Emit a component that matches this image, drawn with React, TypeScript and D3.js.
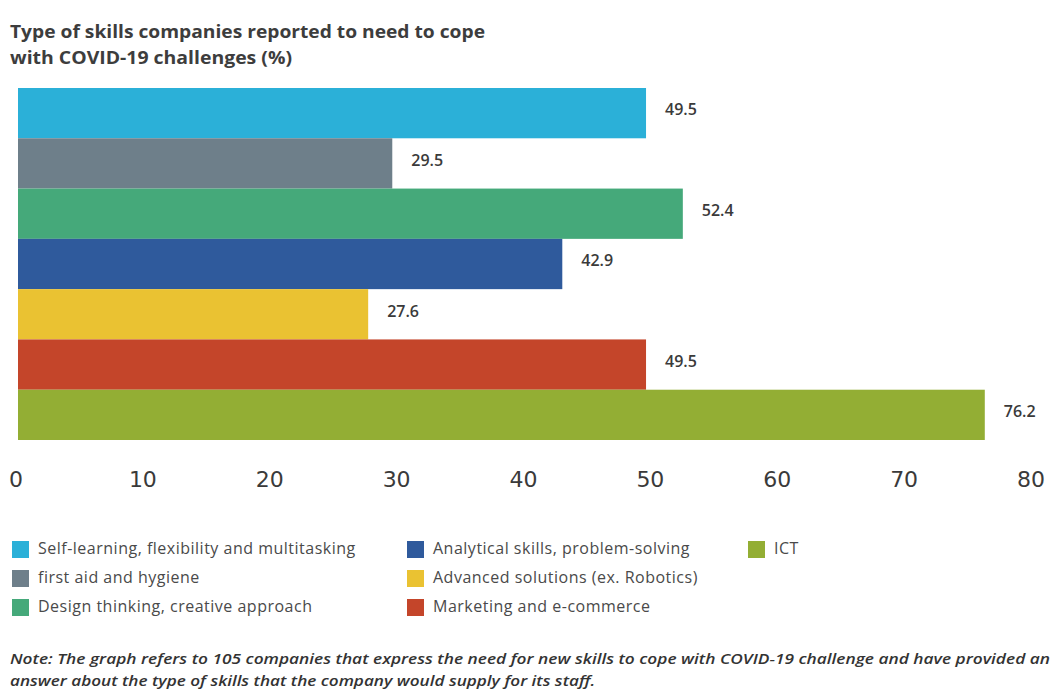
import React from "react";
import * as d3 from "d3";

const categories = [
  "Self-learning, flexibility and multitasking",
  "first aid and hygiene",
  "Design thinking, creative approach",
  "Analytical skills, problem-solving",
  "Advanced solutions (ex. Robotics)",
  "Marketing and e-commerce",
  "ICT",
];
const values = [49.5, 29.5, 52.4, 42.9, 27.6, 49.5, 76.2];
const colors = ["#2BB0D8", "#6E7F8A", "#45A97A", "#2F5A9C", "#EAC232", "#C4452A", "#93AE34"];
const tickValues = [0, 10, 20, 30, 40, 50, 60, 70, 80];
const legendOrder = [[0, 1, 2], [3, 4, 5], [6]];

const W = 1053;
const H = 692;

export default function App() {
  const x = d3.scaleLinear().domain([0, 80]).range([18, 1033]);
  const y = d3.scaleBand<number>().domain(d3.range(values.length)).range([88, 440]).padding(0);
  const legendX = [12, 407, 748];
  const legendY = [541, 570, 599];
  const font = "'Open Sans', 'Noto Sans', sans-serif";
  return (
    <svg width={W} height={H} style={{ position: "absolute", left: 0, top: 0, background: "#fff" }} fontFamily={font}>
      <text fontSize={18} fontWeight={700} fill="#3d3d3d">
        <tspan x={10} y={38} textLength={475} lengthAdjust="spacingAndGlyphs">Type of skills companies reported to need to cope</tspan>
        <tspan x={10} y={64} textLength={282} lengthAdjust="spacingAndGlyphs">with COVID-19 challenges (%)</tspan>
      </text>
      {values.map((v, i) => (
        <g key={i}>
          <rect x={x(0)} y={y(i)!} width={x(v) - x(0)} height={y.bandwidth()} fill={colors[i]} />
          <text x={x(v) + 19} y={y(i)! + y.bandwidth() / 2 - 2} dominantBaseline="middle" fontSize={16} fontWeight={600} fill="#3a3a3a">
            {v.toFixed(1)}
          </text>
        </g>
      ))}
      {tickValues.map((t) => (
        <text key={t} x={x(t) - 2} y={487} textAnchor="middle" fontSize={22} fill="#3a3a3a" fontFamily="'DejaVu Sans', sans-serif">
          {t}
        </text>
      ))}
      {legendOrder.map((col, ci) =>
        col.map((idx, ri) => (
          <g key={idx}>
            <rect x={legendX[ci]} y={legendY[ri]} width={17} height={17} fill={colors[idx]} />
            <text x={legendX[ci] + 26} y={legendY[ri] + 9} dominantBaseline="middle" fontSize={16} letterSpacing={0.5} fill="#4a4a4a">
              {categories[idx]}
            </text>
          </g>
        ))
      )}
      <text fontSize={14} fontStyle="italic" fontWeight={600} fill="#333" fontFamily="'Liberation Sans Narrow', 'Open Sans', sans-serif">
        <tspan x={10} y={664} textLength={1040} lengthAdjust="spacingAndGlyphs">
          Note: The graph refers to 105 companies that express the need for new skills to cope with COVID-19 challenge and have provided an
        </tspan>
        <tspan x={10} y={686} textLength={585} lengthAdjust="spacingAndGlyphs">answer about the type of skills that the company would supply for its staff.</tspan>
      </text>
    </svg>
  );
}
